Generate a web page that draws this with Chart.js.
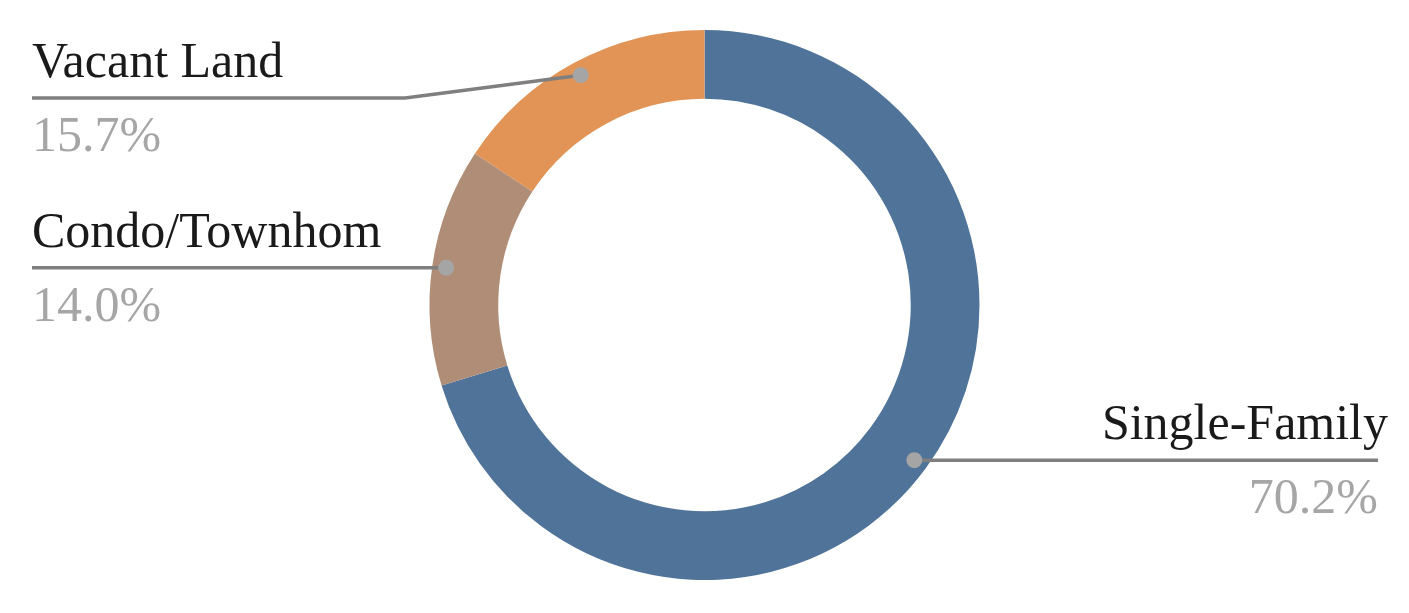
<!DOCTYPE html>
<html>
<head>
<meta charset="utf-8">
<script src="https://cdn.jsdelivr.net/npm/chart.js@4"></script>
<style>
  html, body { margin: 0; padding: 0; background: #fff; }
  #wrap { width: 1409px; height: 613px; }
</style>
</head>
<body>
<div id="wrap"><canvas id="chart" width="1409" height="613"></canvas></div>
<script>
const categories = ['Single-Family', 'Condo/Townhom', 'Vacant Land'];
const shares = [70.2, 14.0, 15.7];
const shareLabels = ['70.2%', '14.0%', '15.7%'];
const sliceColors = ['#50739A', '#B08D77', '#E29457'];

// where each callout goes (side, text edge x, line y, elbow x)
const callouts = [
    { side: 'right', edge: 1378, textEdge: 1388, lineY: null, elbow: null },
    { side: 'left', edge: 32, textEdge: 32, lineY: null, elbow: null },
    { side: 'left', edge: 32, textEdge: 32, lineY: 98, elbow: 405 }
];

const calloutPlugin = {
    id: 'callouts',
    afterDatasetsDraw(chart) {
        const ctx = chart.ctx;
        const arcs = chart.getDatasetMeta(0).data;
        arcs.forEach((arc, i) => {
            const mid = (arc.startAngle + arc.endAngle) / 2;
            const r = arc.outerRadius - 14;
            const dx = arc.x + Math.cos(mid) * r;
            const dy = arc.y + Math.sin(mid) * r;
            const c = callouts[i];
            const ly = c.lineY === null ? dy : c.lineY;

            ctx.save();
            ctx.strokeStyle = '#7F7F7F';
            ctx.lineWidth = 3.5;
            ctx.beginPath();
            ctx.moveTo(dx, dy);
            if (c.elbow !== null) ctx.lineTo(c.elbow, ly);
            ctx.lineTo(c.edge, ly);
            ctx.stroke();

            ctx.fillStyle = '#A5A5A5';
            ctx.beginPath();
            ctx.arc(dx, dy, 8, 0, Math.PI * 2);
            ctx.fill();

            ctx.font = '50px "Liberation Serif", "Times New Roman", serif';
            ctx.textBaseline = 'alphabetic';
            ctx.textAlign = c.side === 'right' ? 'right' : 'left';
            ctx.fillStyle = '#1A1A1A';
            ctx.fillText(categories[i], c.textEdge, ly - 21);
            ctx.fillStyle = '#A6A6A6';
            ctx.fillText(shareLabels[i], c.edge, ly + 53);
            ctx.restore();
        });
    }
};

new Chart(document.getElementById('chart'), {
    type: 'doughnut',
    data: {
        labels: categories,
        datasets: [{
            data: shares,
            backgroundColor: sliceColors,
            borderWidth: 0
        }]
    },
    options: {
        responsive: false,
        animation: false,
        cutout: '75%',
        layout: { padding: { top: 30, bottom: 33, left: 0, right: 0 } },
        plugins: {
            legend: { display: false },
            tooltip: { enabled: false }
        }
    },
    plugins: [calloutPlugin]
});
</script>
</body>
</html>
